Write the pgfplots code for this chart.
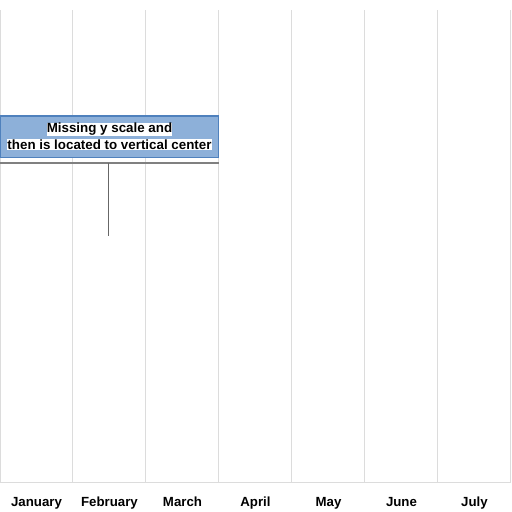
\documentclass[border=0pt]{standalone}
\usepackage{pgfplots}
\pgfplotsset{compat=1.18}
\usepackage{fontspec}
\setmainfont{Liberation Sans}
\definecolor{gridc}{HTML}{DCDCDC}
\definecolor{boxfill}{HTML}{8DB0D9}
\definecolor{boxedge}{HTML}{4F81BD}
\definecolor{linec}{HTML}{808080}
\begin{document}
\begin{tikzpicture}
\path[use as bounding box] (0,0) rectangle (512bp,512bp);
\begin{axis}[
  at={(0,29bp)}, anchor=south west,
  scale only axis, width=511bp, height=473bp,
  xmin=0, xmax=7, ymin=0, ymax=100,
  axis x line*=bottom, axis y line=none,
  x axis line style={gridc, line width=1bp, -},
  xtick={0,1,...,7}, xticklabels={},
  extra x ticks={0.5,1.5,2.5,3.5,4.5,5.5,6.5},
  extra x tick labels={January,February,March,April,May,June,July},
  extra x tick style={grid=none, major tick length=0pt,
    xticklabel style={font=\fontsize{13.3}{15}\selectfont\bfseries, anchor=base, yshift=-24bp}},
  major tick length=0pt,
  xmajorgrids, grid style={gridc, line width=1bp},
  ytick=\empty,
  clip=false,
]
\addplot[fill=boxfill, draw=boxedge, line width=1.2bp] coordinates {(0.01,68.8) (2.99,68.8) (2.99,77.6) (0.01,77.6)} -- cycle;
\addplot[linec, line width=2bp] coordinates {(0,67.65) (3,67.65)};
\addplot[linec!120, line width=1.2bp] coordinates {(1.49,67.65) (1.49,52.2)};
\node[fill=white, inner sep=0.3bp, font=\fontsize{13.4}{15}\selectfont\bfseries] at (axis cs:1.5,74.8) {Missing y scale and};
\node[fill=white, inner sep=0.3bp, font=\fontsize{13.4}{15}\selectfont\bfseries] at (axis cs:1.5,71.6) {then is located to vertical center};
\end{axis}
\end{tikzpicture}
\end{document}
